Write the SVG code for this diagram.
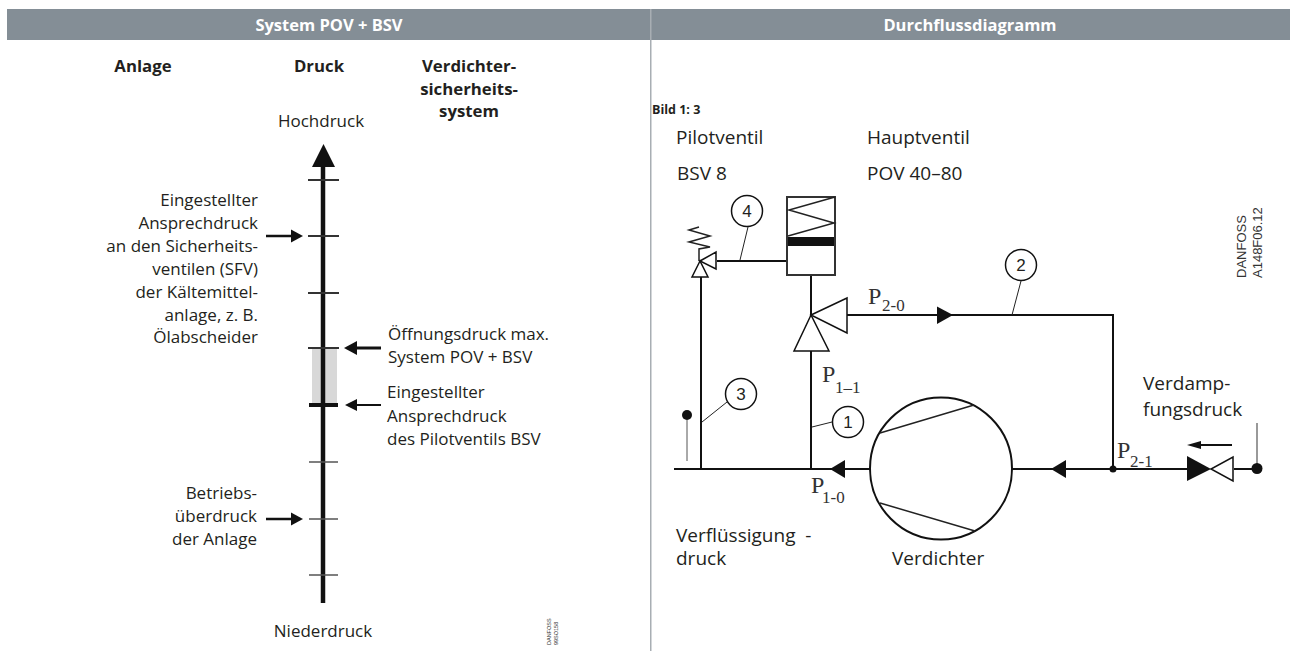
<svg xmlns="http://www.w3.org/2000/svg" width="1290" height="651" viewBox="0 0 1290 651">
<style>
text{font-family:"Open Sans","Noto Sans","Liberation Sans",sans-serif;font-size:17px;fill:#231f20}
.b{font-weight:700;font-size:16.8px}
.h{font-weight:700;font-size:16.5px;fill:#fff}
.r{font-size:19px;white-space:pre}
.m{text-anchor:middle}
.e{text-anchor:end}
.s{font-family:"Liberation Serif",serif;font-size:24px;fill:#333}
.s2{font-family:"Liberation Serif",serif;font-size:17px;fill:#333}
.n{font-family:"Liberation Sans",sans-serif;font-size:17px;text-anchor:middle}
.a{font-family:"Liberation Sans",sans-serif;font-size:13px;fill:#333}
.d{font-family:"Liberation Sans",sans-serif;font-size:5.5px;fill:#333}
.l{stroke:#111;stroke-width:2;fill:none}
.t{stroke:#222;stroke-width:1;fill:none}
.o{stroke:#111;stroke-width:1.5;fill:#fff}
.f{fill:#111;stroke:none}
</style>
<rect width="1290" height="651" fill="#fff"/>
<g id="header">
<rect x="7" y="9" width="1283" height="31" fill="#848e96"/>
<rect x="650" y="9" width="1.5" height="642" fill="#a8aeb3"/>
<text class="h m" x="329" y="31">System POV + BSV</text>
<text class="h m" x="970" y="31">Durchflussdiagramm</text>
</g>
<g id="pressure-chart">
<text class="b m" x="143" y="72">Anlage</text>
<text class="b m" x="319" y="72">Druck</text>
<text class="b m" x="469" y="72">Verdichter-</text>
<text class="b m" x="469" y="95">sicherheits-</text>
<text class="b m" x="469" y="117">system</text>
<text class="m" x="321" y="127">Hochdruck</text>
<text class="m" x="323" y="637">Niederdruck</text>
<rect x="312" y="349" width="25" height="56" fill="#d8d8d8"/>
<path d="M323 160V603" stroke="#111" stroke-width="4.5" fill="none"/>
<path class="f" d="M323.500 144L335 167H312Z"/>
<g stroke="#333" fill="none" stroke-width="2">
<path d="M308 180H339M308 236H339M308 293H339M308 348H339"/>
<path d="M309 405H338" stroke="#111" stroke-width="4"/>
<path d="M309 462H338M309 519H338M309 575H338" stroke="#555" stroke-width="1.5"/>
</g>
<g stroke="#111" stroke-width="2.5" fill="none">
<path d="M266 236H292M266 519H292"/>
<path d="M355 348H381" stroke-width="3"/>
<path d="M355 405H381" stroke-width="2"/>
</g>
<g class="f">
<path d="M303 236L291 229.500V242.500Z"/><path d="M303 519L291 512.500V525.500Z"/>
<path d="M344 348L357 341V355Z"/><path d="M345 405L357 399V411Z"/>
</g>
<text class="e" x="258" y="206">Eingestellter</text>
<text class="e" x="258" y="229">Ansprechdruck</text>
<text class="e" x="258" y="252">an den Sicherheits-</text>
<text class="e" x="258" y="275">ventilen (SFV)</text>
<text class="e" x="258" y="298">der Kältemittel-</text>
<text class="e" x="258" y="321">anlage, z. B.</text>
<text class="e" x="258" y="343">Ölabscheider</text>
<text x="388" y="340">Öffnungsdruck max.</text>
<text x="388" y="363">System POV + BSV</text>
<text x="387" y="398">Eingestellter</text>
<text x="387" y="422">Ansprechdruck</text>
<text x="387" y="445">des Pilotventils BSV</text>
<text class="e" x="257" y="499">Betriebs-</text>
<text class="e" x="257" y="522">überdruck</text>
<text class="e" x="257" y="545">der Anlage</text>
<text class="d" transform="translate(551 645) rotate(-90)">DANFOSS</text>
<text class="d" transform="translate(558 645) rotate(-90)">99SO158</text>
</g>
<g id="flow-labels">
<text class="b" style="font-size:12.5px" x="652" y="114">Bild 1: 3</text>
<text class="r" x="676" y="144">Pilotventil</text>
<text class="r" x="867" y="144">Hauptventil</text>
<text class="r" x="677" y="180">BSV 8</text>
<text class="r" x="867" y="180">POV 40–80</text>
<text class="r" x="676" y="542">Verflüssigung  -</text>
<text class="r" x="676" y="565">druck</text>
<text class="r" x="892" y="565">Verdichter</text>
<text class="r" x="1143" y="390">Verdamp-</text>
<text class="r" x="1143" y="416">fungsdruck</text>
<text class="a" transform="translate(1246 278) rotate(-90)">DANFOSS</text>
<text class="a" transform="translate(1262 278) rotate(-90)">A148F06.12</text>
<text class="s" x="868" y="304">P</text><text class="s2" x="882" y="311">2-0</text>
<text class="s" x="822" y="382">P</text><text class="s2" x="835" y="393">1–1</text>
<text class="s" x="811" y="493">P</text><text class="s2" x="822" y="503">1-0</text>
<text class="s" x="1117" y="458">P</text><text class="s2" x="1130" y="467">2-1</text>
</g>
<g id="connectors">
<path class="l" d="M674 469H870M1012 469H1187M1234 469H1257"/>
<path class="l" d="M701 469V277M811 469V351M811 275V315M847 315H1113V469M717 261H787"/>
<path class="t" d="M702 422L727 402M812 427L832 422M740 260L748 227M1012 315L1021 281"/>
<path class="f" d="M830 469L845 460V478Z"/>
<path class="f" d="M1051 469L1066 460V478Z"/>
<path class="f" d="M953 315L937 306.500V324Z"/>
</g>
<g id="node-compressor">
<circle cx="941" cy="468.500" r="71" fill="none" stroke="#111" stroke-width="2"/>
<path class="t" style="stroke-width:1.5" d="M880 433L974 405M880 503L975 531"/>
</g>
<g id="node-main-valve">
<rect x="787" y="197" width="48" height="78" fill="#fff" stroke="#333" stroke-width="2"/>
<path class="t" style="stroke-width:1.500" d="M835 197L789 210L834 223L788 236"/>
<rect x="788" y="237" width="46" height="9" fill="#111"/>
<path class="o" d="M811 315L794 351H829Z"/>
<path class="o" d="M811 315L847 298V333Z"/>
</g>
<g id="node-pilot-valve">
<path class="t" style="stroke-width:1.500" d="M699 227L689 230L710 236L689 242L710 247L699 249V261"/>
<path class="o" d="M700 261L692 277H708Z"/>
<path class="o" d="M700 261L716 252V269Z"/>
</g>
<g id="node-expansion">
<path class="f" d="M1211 469L1187 456V481Z"/>
<path fill="#fff" stroke="#111" stroke-width="1.500" d="M1233 457V481L1211 469Z"/>
<path class="l" d="M1195 445H1232"/>
<path class="f" d="M1187 445L1201 441V449Z"/>
<path stroke="#777" stroke-width="1.500" d="M1257 423V469"/>
<circle class="f" cx="1257" cy="468.500" r="5.500"/>
<circle class="f" cx="1113" cy="469" r="3.500"/>
<path stroke="#555" stroke-width="1" d="M687 461V420"/>
<circle class="f" cx="687" cy="415" r="5"/>
</g>
<g id="callouts">
<circle class="o" cx="747" cy="211" r="15.500"/><text class="n" x="747" y="217">4</text>
<circle class="o" cx="1021" cy="265" r="15.500"/><text class="n" x="1021" y="271">2</text>
<circle class="o" cx="741" cy="394" r="15.500"/><text class="n" x="741" y="400">3</text>
<circle class="o" cx="848" cy="422" r="15.500"/><text class="n" x="848" y="428">1</text>
</g>
</svg>
